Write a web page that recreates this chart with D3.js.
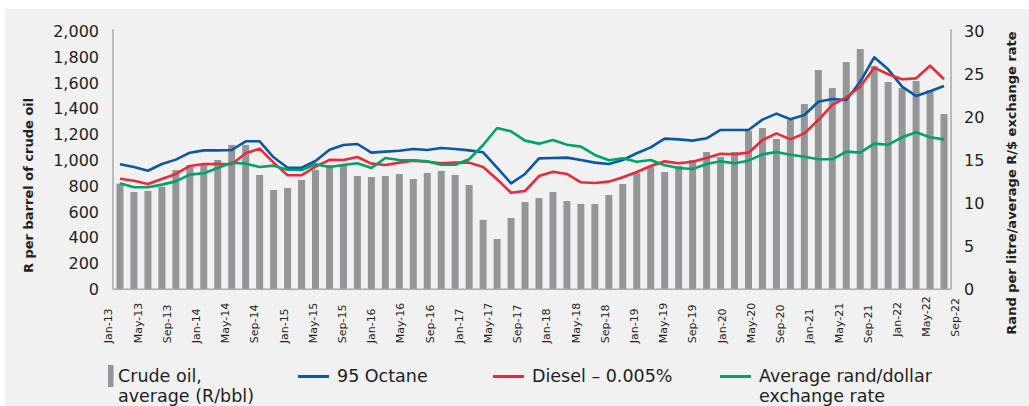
<!DOCTYPE html>
<html>
<head>
<meta charset="utf-8">
<script src="https://cdn.jsdelivr.net/npm/d3@7"></script>
<style>
  body { margin: 0; background: #fff; }
  svg { display: block; font-family: "DejaVu Sans", sans-serif; }
</style>
</head>
<body>
<svg width="1029" height="406"></svg>
<script>
const width = 1029, height = 406;

// crude oil, average (R/bbl) - one bar every two months
const crude = [820, 755, 763, 796, 925, 964, 964, 1003, 1120, 1120,
    887, 770, 786, 848, 925, 965, 964, 879, 871, 879,
    894, 856, 902, 918, 887, 809, 538, 390, 553, 677,
    708, 755, 685, 662, 662, 731, 817, 902, 949, 910,
    957, 1003, 1065, 1026, 1065, 1228, 1251, 1166, 1313, 1437,
    1701, 1561, 1763, 1864, 1732, 1608, 1561, 1616, 1546, 1360];

// 95 Octane (R/litre)
const octane = [14.55, 14.23, 13.80, 14.58, 15.09, 15.90, 16.17, 16.17, 16.21, 17.22,
    17.22, 15.36, 14.15, 14.15, 14.93, 16.25, 16.79, 16.91, 15.90, 16.02,
    16.13, 16.33, 16.21, 16.44, 16.33, 16.17, 15.94, 14.15, 12.33, 13.42,
    15.24, 15.28, 15.32, 15.05, 14.74, 14.58, 15.05, 15.83, 16.52, 17.53,
    17.45, 17.30, 17.57, 18.54, 18.54, 18.54, 19.74, 20.44, 19.78, 20.28,
    21.83, 22.15, 22.03, 24.16, 27.00, 25.60, 23.58, 22.49, 23.04, 23.66];

// Diesel 0.005% (R/litre)
const diesel = [12.87, 12.64, 12.25, 12.84, 13.42, 14.35, 14.58, 14.58, 14.55, 15.83,
    16.37, 14.74, 13.27, 13.27, 14.27, 15.07, 15.05, 15.40, 14.62, 14.46,
    14.74, 14.97, 14.85, 14.66, 14.74, 14.74, 14.23, 12.80, 11.24, 11.44,
    13.18, 13.67, 13.42, 12.45, 12.37, 12.53, 13.03, 13.65, 14.35, 14.89,
    14.66, 14.85, 15.28, 15.78, 15.71, 15.90, 17.37, 18.15, 17.45, 18.15,
    19.70, 21.45, 22.34, 23.58, 25.79, 25.02, 24.44, 24.55, 26.02, 24.44];

// average rand/dollar exchange rate
const exchange = [12.33, 11.87, 11.87, 12.18, 12.56, 13.34, 13.50, 14.11, 14.74, 14.62,
    14.23, 14.39, 13.92, 13.88, 14.55, 14.23, 14.46, 14.66, 14.11, 15.28,
    15.05, 15.01, 14.89, 14.50, 14.50, 15.13, 16.79, 18.77, 18.38, 17.30,
    16.95, 17.37, 16.83, 16.60, 15.63, 15.01, 15.24, 14.85, 15.05, 14.43,
    14.11, 14.00, 14.58, 14.89, 14.66, 14.97, 15.70, 15.98, 15.66, 15.43,
    15.13, 15.13, 16.02, 15.90, 16.95, 16.83, 17.69, 18.27, 17.69, 17.45];

const tickLabels = ["Jan-13", "May-13", "Sep-13", "Jan-14", "May-14", "Sep-14",
    "Jan-15", "May-15", "Sep-15", "Jan-16", "May-16", "Sep-16",
    "Jan-17", "May-17", "Sep-17", "Jan-18", "May-18", "Sep-18",
    "Jan-19", "May-19", "Sep-19", "Jan-20", "May-20", "Sep-20",
    "Jan-21", "May-21", "Sep-21", "Jan-22", "May-22", "Sep-22"];

const leftTicks = [0, 200, 400, 600, 800, 1000, 1200, 1400, 1600, 1800, 2000];
const rightTicks = [0, 5, 10, 15, 20, 25, 30];

const textColor = "#231f20";
const axisColor = "#a7a9ac";

const svg = d3.select("svg");

// grey panel
svg.append("rect")
    .attr("x", 5).attr("y", 9)
    .attr("width", width - 5).attr("height", height - 9)
    .attr("fill", "#f1f1f1");

const plotLeft = 113, plotRight = 951, plotBottom = 289.3, plotTop = 31.5;

const x = d3.scaleBand()
    .domain(d3.range(crude.length))
    .range([plotLeft, plotRight])
    .paddingInner(0.5)
    .paddingOuter(0.25);
const xLab = d3.scalePoint().domain(tickLabels).range([108, 955]);
const yL = d3.scaleLinear().domain([0, 2000]).range([plotBottom, plotTop]);
const yR = d3.scaleLinear().domain([0, 30]).range([plotBottom, plotTop]);

// bars
svg.selectAll(".bar")
    .data(crude)
    .enter().append("rect")
    .attr("class", "bar")
    .attr("x", (d, i) => x(i))
    .attr("y", d => yL(d))
    .attr("width", x.bandwidth())
    .attr("height", d => yL(0) - yL(d))
    .attr("fill", "#939598");

// lines
const line = d3.line()
    .x((d, i) => x(i) + x.bandwidth() / 2)
    .y(d => yR(d));

const series = [
    { values: octane, color: "#0a57a6" },
    { values: diesel, color: "#ed2939" },
    { values: exchange, color: "#00a468" }
];
series.forEach(s => {
    svg.append("path")
        .datum(s.values)
        .attr("d", line)
        .attr("fill", "none")
        .attr("stroke", s.color)
        .attr("stroke-width", 2.6)
        .attr("stroke-linejoin", "round");
});

// axis lines
svg.append("line").attr("x1", plotLeft).attr("x2", plotLeft).attr("y1", 29.5).attr("y2", plotBottom)
    .attr("stroke", axisColor).attr("stroke-width", 1.5);
svg.append("line").attr("x1", plotRight).attr("x2", plotRight).attr("y1", 29.5).attr("y2", plotBottom)
    .attr("stroke", axisColor).attr("stroke-width", 1.5);
svg.append("line").attr("x1", plotLeft).attr("x2", plotRight).attr("y1", plotBottom).attr("y2", plotBottom)
    .attr("stroke", axisColor).attr("stroke-width", 1.5);

// left axis
svg.append("g")
    .attr("transform", `translate(${plotLeft},0)`)
    .call(d3.axisLeft(yL).tickValues(leftTicks).tickSize(0).tickPadding(14).tickFormat(d3.format(",")))
    .call(g => g.select(".domain").remove())
    .attr("font-family", null).attr("font-size", 16)
    .selectAll("text").attr("fill", textColor);

// right axis
svg.append("g")
    .attr("transform", `translate(${plotRight},0)`)
    .call(d3.axisRight(yR).tickValues(rightTicks).tickSize(0).tickPadding(13))
    .call(g => g.select(".domain").remove())
    .attr("font-family", null).attr("font-size", 16)
    .selectAll("text").attr("fill", textColor);

// x labels, rotated
svg.append("g")
    .attr("transform", `translate(0,${plotBottom})`)
    .call(d3.axisBottom(xLab).tickSize(0))
    .call(g => g.select(".domain").remove())
    .attr("font-family", null).attr("font-size", 11)
    .selectAll("text")
    .attr("fill", textColor)
    .attr("text-anchor", "start")
    .attr("y", 0).attr("x", 0).attr("dy", "0.35em")
    .attr("transform", (d, i) => `translate(0,${i >= 27 ? 47.5 : 54}) rotate(-90)`);

// axis titles
svg.append("text")
    .attr("transform", `translate(33,${(plotTop + plotBottom) / 2 + 25}) rotate(-90)`)
    .attr("text-anchor", "middle")
    .attr("font-size", 13).attr("font-weight", "bold")
    .attr("fill", textColor)
    .text("R per barrel of crude oil");

svg.append("text")
    .attr("transform", `translate(1016,183) rotate(-90)`)
    .attr("text-anchor", "middle")
    .attr("font-size", 13).attr("font-weight", "bold")
    .attr("fill", textColor)
    .text("Rand per litre/average R/$ exchange rate");

// legend
const legend = svg.append("g").attr("font-size", 17.5).attr("fill", textColor);
legend.append("rect").attr("x", 108).attr("y", 365).attr("width", 5.5).attr("height", 22).attr("fill", "#939598");
legend.append("text").attr("x", 118).attr("y", 382).text("Crude oil,");
legend.append("text").attr("x", 118).attr("y", 402).text("average (R/bbl)");

const legendLines = [
    { x: 298, color: "#0a57a6", label: "95 Octane" },
    { x: 493, color: "#ed2939", label: "Diesel \u2013 0.005%" },
    { x: 720, color: "#00a468", label: "Average rand/dollar" }
];
legendLines.forEach(l => {
    legend.append("line")
        .attr("x1", l.x).attr("x2", l.x + 31)
        .attr("y1", 376.5).attr("y2", 376.5)
        .attr("stroke", l.color).attr("stroke-width", 3);
    legend.append("text").attr("x", l.x + 39).attr("y", 382).text(l.label);
});
legend.append("text").attr("x", 759).attr("y", 402).text("exchange rate");
</script>
</body>
</html>
